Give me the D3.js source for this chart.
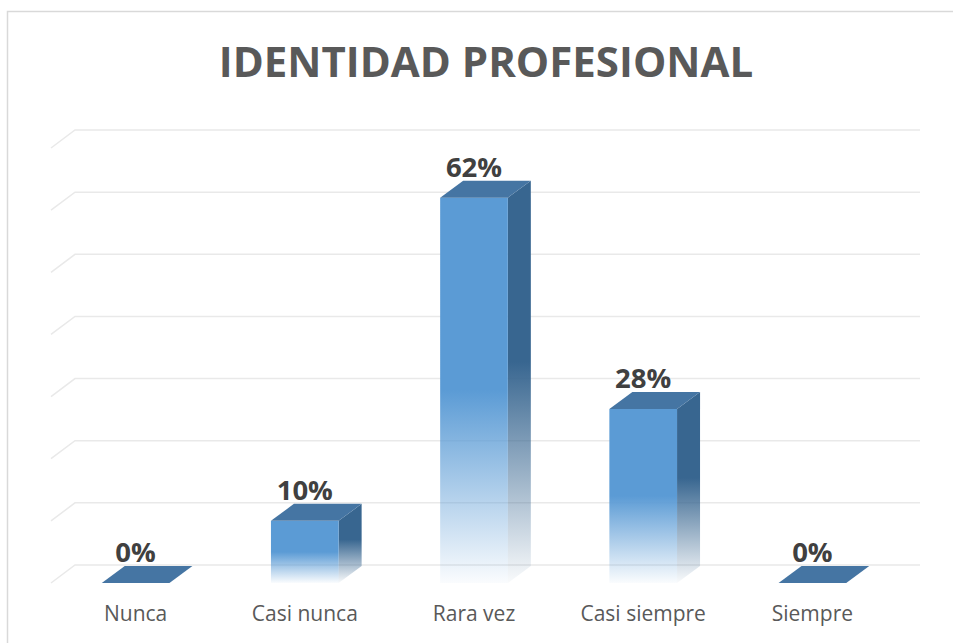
<!DOCTYPE html>
<html>
<head>
<meta charset="utf-8">
<script src="https://cdn.jsdelivr.net/npm/d3@7"></script>
<style>
  html, body { margin: 0; padding: 0; background: #fff; }
  svg { display: block; }
</style>
</head>
<body>
<svg id="chart" width="953" height="643"></svg>
<script>
// ---- data ----
const chartTitle = "IDENTIDAD PROFESIONAL";
const categories = ["Nunca", "Casi nunca", "Rara vez", "Casi siempre", "Siempre"];
const percentages = [0, 10, 62, 28, 0];
const yDomainMax = 70; // axis 0 - 70 %, gridlines every 10

// ---- layout ----
const svg = d3.select("#chart");
const plot = { left: 51, right: 897, floor: 583, top: 148 };
const gridDepth = { dx: 24, dy: 18 };
const barDepth = { dx: 23, dy: 17 };

const x = d3.scaleBand()
  .domain(categories)
  .range([plot.left, plot.right])
  .paddingInner(0.6)
  .paddingOuter(0.3);

const y = d3.scaleLinear()
  .domain([0, yDomainMax])
  .range([plot.floor, plot.top]);

// chart frame
svg.append("rect")
  .attr("x", 7.5).attr("y", 11.5)
  .attr("width", 980).attr("height", 700)
  .attr("fill", "#fff")
  .attr("stroke", "#d9d9d9")
  .attr("stroke-width", 1.5);

// gradients
const defs = svg.append("defs");
function fadeGradient(id, color, mid) {
  const g = defs.append("linearGradient")
    .attr("id", id)
    .attr("x1", 0).attr("y1", 0).attr("x2", 0).attr("y2", 1);
  g.append("stop").attr("offset", "0%").attr("stop-color", color).attr("stop-opacity", 1);
  g.append("stop").attr("offset", mid).attr("stop-color", color).attr("stop-opacity", 1);
  g.append("stop").attr("offset", "100%").attr("stop-color", color).attr("stop-opacity", 0.03);
}
fadeGradient("frontFade", "#5b9bd5", "50%");
fadeGradient("sideFade", "#386690", "45%");

// gridlines on back wall with left diagonal
const grid = svg.append("g").attr("class", "grid");
y.ticks(7).forEach(t => {
  const yb = y(t) - gridDepth.dy;
  grid.append("path")
    .attr("d", `M${plot.left},${yb + gridDepth.dy} L${plot.left + gridDepth.dx},${yb} L${plot.right + gridDepth.dx - 1},${yb}`)
    .attr("fill", "none")
    .attr("stroke", "#e9e9e9")
    .attr("stroke-width", 1.5);
});

// bars
const bars = svg.append("g").attr("class", "bars");
categories.forEach((c, i) => {
  const v = percentages[i];
  const x0 = x(c), x1 = x(c) + x.bandwidth();
  const yt = y(v), yb = y(0);
  const { dx, dy } = barDepth;
  const g = bars.append("g");

  if (v > 0) {
    // side face
    g.append("path")
      .attr("d", `M${x1},${yt} L${x1 + dx},${yt - dy} L${x1 + dx},${yb - dy} L${x1},${yb} Z`)
      .attr("fill", "url(#sideFade)");
    // front face
    g.append("rect")
      .attr("x", x0).attr("y", yt)
      .attr("width", x1 - x0).attr("height", yb - yt)
      .attr("fill", "url(#frontFade)");
  }
  // top face
  g.append("path")
    .attr("d", `M${x0},${yt} L${x0 + dx},${yt - dy} L${x1 + dx},${yt - dy} L${x1},${yt} Z`)
    .attr("fill", "#4575a3");

  // value label
  g.append("text")
    .attr("x", (x0 + x1) / 2)
    .attr("y", yt - 21)
    .attr("text-anchor", "middle")
    .attr("font-family", "'Open Sans', sans-serif")
    .attr("font-weight", "bold")
    .attr("font-size", 27.5)
    .attr("fill", "#404040")
    .text(v + "%");
});

// category axis labels
svg.append("g").attr("class", "x-labels")
  .selectAll("text")
  .data(categories)
  .join("text")
  .attr("x", d => x(d) + x.bandwidth() / 2)
  .attr("y", 621)
  .attr("text-anchor", "middle")
  .attr("font-family", "'Open Sans', sans-serif")
  .attr("font-size", 21)
  .attr("fill", "#595959")
  .text(d => d);

// title
svg.append("text")
  .attr("x", 486)
  .attr("y", 77)
  .attr("text-anchor", "middle")
  .attr("font-family", "'Open Sans', sans-serif")
  .attr("font-weight", "bold")
  .attr("font-size", 42)
  .attr("fill", "#595959")
  .text(chartTitle);
</script>
</body>
</html>
